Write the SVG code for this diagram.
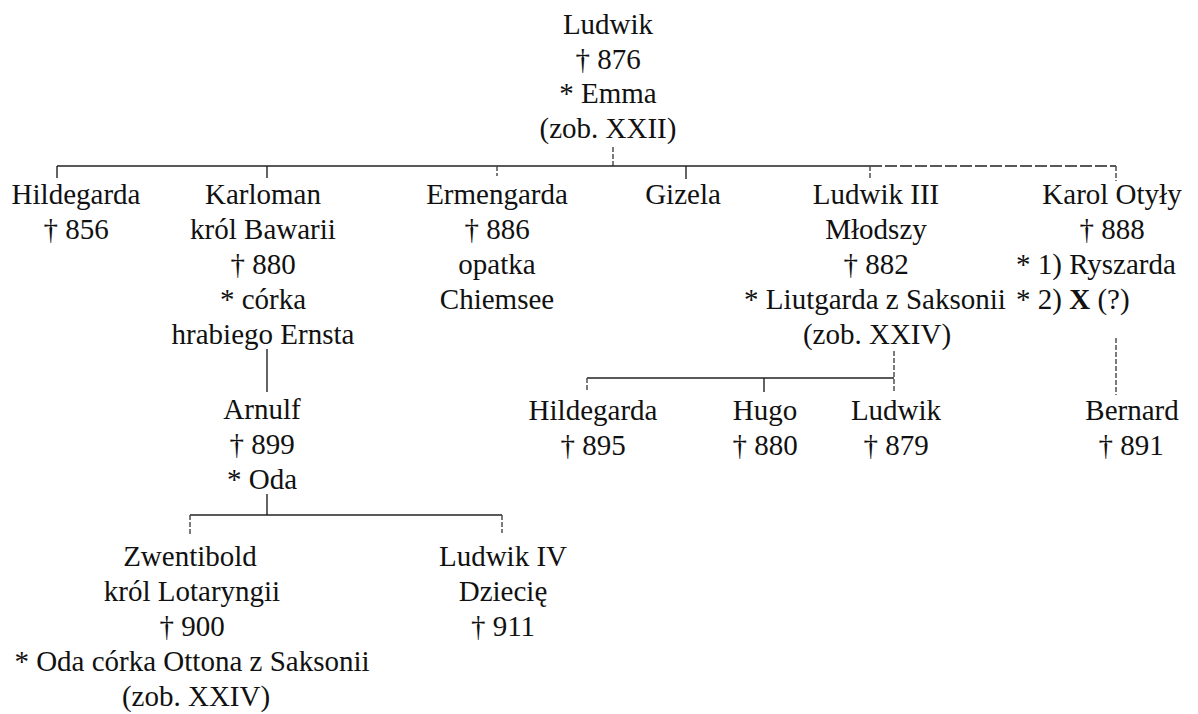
<svg xmlns="http://www.w3.org/2000/svg" width="1198" height="714" viewBox="0 0 1198 714" font-family="'Liberation Serif', 'Times New Roman', Times, serif">
  <style>
    text { font-family: 'Liberation Serif', 'Times New Roman', Times, serif; font-size: 29px; fill: #111; text-anchor: middle; }
    text.left { text-anchor: start; }
    .b { font-weight: bold; }
    line { stroke: #222; stroke-width: 1.4; fill: none; }
    line.broken { stroke-dasharray: 5 2; stroke: #444; }
    line.thin { stroke-dasharray: 12 3; }
  </style>
  <rect width="1198" height="714" fill="#fff"/>

  <g id="connectors">
    <!-- Ludwik to his children -->
    <line class="broken" x1="613" y1="147" x2="613" y2="166"/>
    <line x1="57" y1="166" x2="870" y2="166"/>
    <line class="thin" x1="870" y1="166" x2="1116" y2="166"/>
    <line x1="57" y1="166" x2="57" y2="178"/>
    <line x1="267" y1="166" x2="267" y2="178"/>
    <line class="broken" x1="497" y1="166" x2="497" y2="176"/>
    <line x1="686" y1="166" x2="686" y2="179"/>
    <line class="broken" x1="870" y1="166" x2="870" y2="179"/>
    <line class="broken" x1="1116" y1="166" x2="1116" y2="181"/>
    <!-- Karloman to Arnulf -->
    <line x1="267" y1="349" x2="267" y2="392"/>
    <!-- Arnulf to his sons -->
    <line x1="267" y1="494" x2="267" y2="515"/>
    <line x1="190" y1="515" x2="502" y2="515"/>
    <line class="broken" x1="190" y1="515" x2="190" y2="535"/>
    <line class="broken" x1="502" y1="515" x2="502" y2="533"/>
    <!-- Ludwik III to his children -->
    <line class="broken" x1="894" y1="351" x2="894" y2="392"/>
    <line x1="587" y1="378" x2="894" y2="378"/>
    <line class="broken" x1="587" y1="378" x2="587" y2="392"/>
    <line x1="764" y1="378" x2="764" y2="392"/>
    <!-- Karol Otyły to Bernard -->
    <line class="broken" x1="1116" y1="338" x2="1116" y2="395"/>
  </g>

  <g id="ludwik">
    <text x="608" y="34">Ludwik</text>
    <text x="608" y="69">† 876</text>
    <text x="608" y="103">* Emma</text>
    <text x="608" y="138">(zob. XXII)</text>
  </g>

  <g id="hildegarda">
    <text x="76" y="204">Hildegarda</text>
    <text x="76" y="239">† 856</text>
  </g>

  <g id="karloman">
    <text x="263" y="204">Karloman</text>
    <text x="263" y="239">król Bawarii</text>
    <text x="263" y="274">† 880</text>
    <text x="263" y="309">* córka</text>
    <text x="263" y="344">hrabiego Ernsta</text>
  </g>

  <g id="ermengarda">
    <text x="497" y="204">Ermengarda</text>
    <text x="497" y="239">† 886</text>
    <text x="497" y="274">opatka</text>
    <text x="497" y="309">Chiemsee</text>
  </g>

  <g id="gizela">
    <text x="683" y="204">Gizela</text>
  </g>

  <g id="ludwik-iii">
    <text x="876" y="204">Ludwik III</text>
    <text x="876" y="239">Młodszy</text>
    <text x="876" y="274">† 882</text>
    <text x="875" y="309">* Liutgarda z Saksonii</text>
    <text x="877" y="344">(zob. XXIV)</text>
  </g>

  <g id="karol-otyly">
    <text x="1112" y="204">Karol Otyły</text>
    <text x="1112" y="239">† 888</text>
    <text class="left" x="1016" y="274">* 1) Ryszarda</text>
    <text class="left" x="1016" y="309">* 2) <tspan class="b">X</tspan> (?)</text>
  </g>

  <g id="arnulf">
    <text x="262" y="419">Arnulf</text>
    <text x="262" y="454">† 899</text>
    <text x="262" y="489">* Oda</text>
  </g>

  <g id="hildegarda-895">
    <text x="593" y="420">Hildegarda</text>
    <text x="593" y="455">† 895</text>
  </g>

  <g id="hugo">
    <text x="765" y="420">Hugo</text>
    <text x="765" y="455">† 880</text>
  </g>

  <g id="ludwik-879">
    <text x="896" y="420">Ludwik</text>
    <text x="896" y="455">† 879</text>
  </g>

  <g id="bernard">
    <text x="1132" y="420">Bernard</text>
    <text x="1131" y="455">† 891</text>
  </g>

  <g id="zwentibold">
    <text x="190" y="566">Zwentibold</text>
    <text x="192" y="601">król Lotaryngii</text>
    <text x="192" y="636">† 900</text>
    <text x="192" y="671">* Oda córka Ottona z Saksonii</text>
    <text x="196" y="706">(zob. XXIV)</text>
  </g>

  <g id="ludwik-iv">
    <text x="503" y="566">Ludwik IV</text>
    <text x="503" y="601">Dziecię</text>
    <text x="503" y="636">† 911</text>
  </g>
</svg>
